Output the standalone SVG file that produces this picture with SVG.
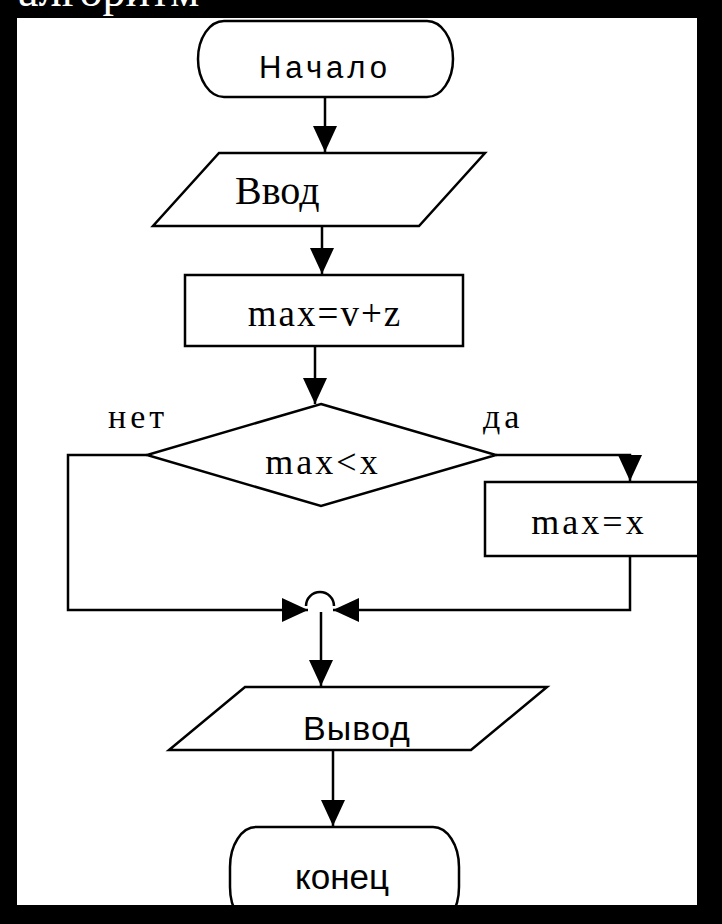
<svg xmlns="http://www.w3.org/2000/svg" width="722" height="924" viewBox="0 0 722 924">
<style>
.shape{fill:#fff;stroke:#000;stroke-width:2.5}
.line{fill:none;stroke:#000;stroke-width:2.5}
.t{font-family:"Liberation Serif","Times New Roman",serif;fill:#000}
.ts{font-family:"Liberation Sans",Arial,sans-serif;fill:#000}
</style>
<defs>
<marker id="arr" markerUnits="userSpaceOnUse" markerWidth="26" markerHeight="24" refX="26" refY="12" orient="auto">
<path d="M0,0 L26,12 L0,24 z" fill="#000"/>
</marker>
</defs>
<rect x="0" y="0" width="722" height="924" fill="#fff"/>
<g id="connectors">
<path class="line" d="M325,97 V152" marker-end="url(#arr)"/>
<path class="line" d="M322,226 V274" marker-end="url(#arr)"/>
<path class="line" d="M315,347 V404" marker-end="url(#arr)"/>
<path class="line" d="M147,455 H68 V610 H308" marker-end="url(#arr)"/>
<path class="line" d="M496,455 H630 V481" marker-end="url(#arr)"/>
<path class="line" d="M630,556 V610 H333" marker-end="url(#arr)"/>
<path class="line" d="M306,606 A14,14 0 0 1 334,606"/>
<path class="line" d="M321,612 V686" marker-end="url(#arr)"/>
<path class="line" d="M333,750 V826" marker-end="url(#arr)"/>
</g>
<g id="start">
<rect class="shape" x="198" y="21" width="255" height="76" rx="26" ry="38"/>
<text class="ts" x="325" y="78" font-size="31" text-anchor="middle" letter-spacing="4">Начало</text>
</g>
<g id="input">
<polygon class="shape" points="219,153 485,153 419,226 153,226"/>
<text class="t" x="235" y="204" font-size="40">Ввод</text>
</g>
<g id="assign1">
<rect class="shape" x="185" y="275" width="278" height="71"/>
<text class="t" x="325" y="326" font-size="37" text-anchor="middle" letter-spacing="2">max=v+z</text>
</g>
<g id="decision">
<polygon class="shape" points="321,404 496,455 321,506 147,455"/>
<text class="t" x="323" y="474" font-size="36" text-anchor="middle" letter-spacing="3">max&lt;x</text>
<text class="t" x="108" y="428" font-size="34" letter-spacing="4">нет</text>
<text class="t" x="483" y="428" font-size="34" letter-spacing="4">да</text>
</g>
<g id="assign2">
<rect class="shape" x="485" y="482" width="230" height="74"/>
<text class="t" x="589" y="534" font-size="36" text-anchor="middle" letter-spacing="3">max=x</text>
</g>
<g id="output">
<polygon class="shape" points="245,687 547,687 471,750 169,750"/>
<text class="ts" x="357" y="740" font-size="34" text-anchor="middle" letter-spacing="1">Вывод</text>
</g>
<g id="end">
<rect class="shape" x="230" y="827" width="229" height="100" rx="26" ry="40"/>
<text class="ts" x="342" y="889" font-size="35" text-anchor="middle">конец</text>
</g>
<path d="M0,0 H722 V924 H0 Z M17,18 V905 H697 V18 Z" fill="#000" fill-rule="evenodd"/>
<text x="18" y="6" font-family="'Liberation Serif','Times New Roman',serif" font-size="46" fill="#fff">алгоритм</text>
</svg>
